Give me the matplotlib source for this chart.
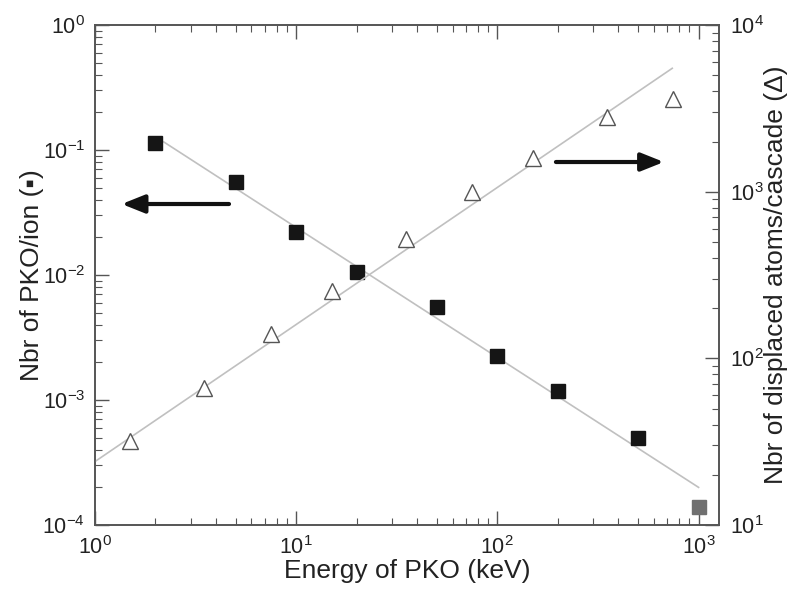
import matplotlib.pyplot as plt

plt.rcParams['font.family'] = ['Liberation Sans', 'DejaVu Sans']
plt.rcParams['mathtext.fontset'] = 'custom'
plt.rcParams['mathtext.rm'] = 'Liberation Sans'
plt.rcParams['mathtext.it'] = 'Liberation Sans:italic'
plt.rcParams['axes.unicode_minus'] = False

# squares: number of PKO per ion (left axis)
pko_energy = [2, 5, 10, 20, 50, 100, 200, 500]
pko_per_ion = [0.113, 0.0555, 0.0221, 0.0106, 0.00555, 0.00225, 0.00118, 0.000497]
# last point, drawn in grey
pko_energy_last = [1000]
pko_per_ion_last = [0.000139]

# triangles: displaced atoms per cascade (right axis)
cascade_energy = [1.5, 3.5, 7.5, 15, 35, 75, 150, 350, 750]
displaced_atoms = [32, 66, 140, 253, 520, 995, 1590, 2800, 3600]

# fitted power laws, end points
fit_pko_x = [2.2, 1000]
fit_pko_y = [0.116, 2.0e-4]
fit_disp_x = [1.0, 740]
fit_disp_y = [24, 5500]

fig = plt.figure(figsize=(8.04, 5.97), dpi=100)
ax = fig.add_axes([0.118, 0.1206, 0.776, 0.8375])
ax2 = ax.twinx()

ax.plot(fit_pko_x, fit_pko_y, color='#c0c0c0', lw=1.2, zorder=1)
ax.plot(pko_energy, pko_per_ion, 's', color='#151515', ms=9.5, mec='#151515', zorder=3)
ax.plot(pko_energy_last, pko_per_ion_last, 's', color='#707070', ms=9.5, mec='#707070', zorder=3)

ax2.plot(fit_disp_x, fit_disp_y, color='#c0c0c0', lw=1.2, zorder=1)
ax2.plot(cascade_energy, displaced_atoms, '^', mfc='white', mec='#555555', mew=1.0, ms=12, zorder=3)

ax.set_xscale('log')
ax.set_yscale('log')
ax2.set_yscale('log')
ax.set_xlim(1, 1260)
ax.set_ylim(1e-4, 1)
ax2.set_ylim(10, 1e4)

for a in (ax, ax2):
    for s in a.spines.values():
        s.set_color('#555555')
        s.set_linewidth(1.2)

ax.tick_params(which='both', direction='in', top=True, right=False, colors='#555555',
               labelcolor='#222222', labelsize=15.5)
ax.tick_params(which='major', length=10, width=1)
ax.tick_params(which='minor', length=5, width=0.8)
ax.tick_params(axis='x', pad=8)
ax.tick_params(axis='y', pad=7)
ax2.tick_params(which='both', direction='in', colors='#555555', labelcolor='#222222', labelsize=15.5, pad=8)
ax2.tick_params(which='major', length=10, width=1)
ax2.tick_params(which='minor', length=5, width=0.8)

ax.set_xlabel('Energy of PKO (keV)', fontsize=19, color='#222222', labelpad=0)
ax.set_ylabel('Nbr of PKO/ion (\u25aa)', fontsize=19, color='#222222', labelpad=-1)
ax2.set_ylabel('Nbr of displaced atoms/cascade (\u0394)', fontsize=19, color='#222222', labelpad=0)

arrow = dict(arrowstyle='-|>,head_length=0.55,head_width=0.22', mutation_scale=25,
             lw=3, color='#111111', shrinkA=0, shrinkB=0)
ax.annotate('', xy=(0.043, 0.642), xytext=(0.215, 0.642), xycoords='axes fraction', arrowprops=arrow)
ax.annotate('', xy=(0.912, 0.726), xytext=(0.739, 0.726), xycoords='axes fraction', arrowprops=arrow)

fig.savefig('out.png', dpi=100)
